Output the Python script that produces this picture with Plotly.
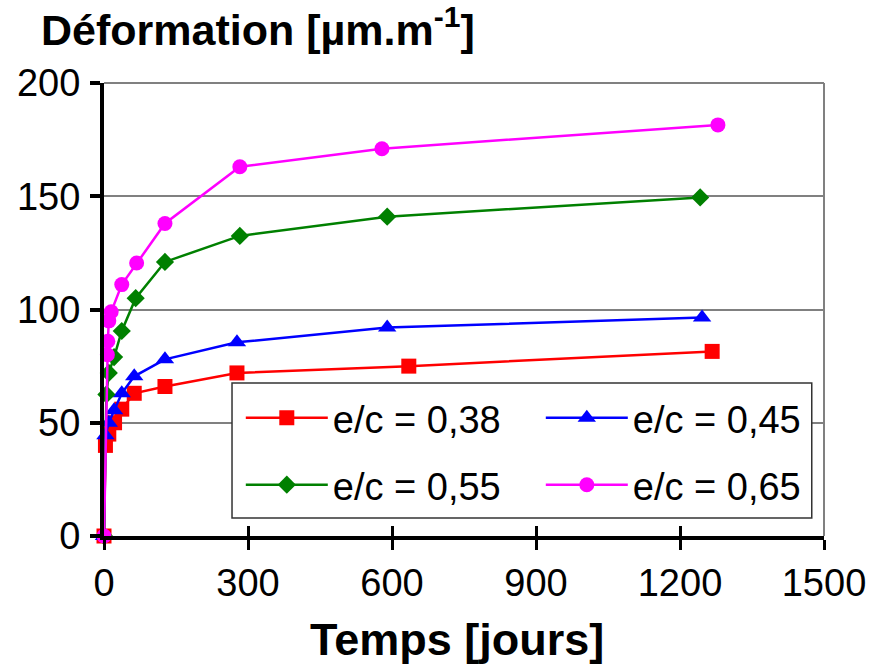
import plotly.graph_objects as go

names = ["e/c = 0,38", "e/c = 0,45", "e/c = 0,55", "e/c = 0,65"]
colors = ["#ff0000", "#0000ff", "#008000", "#ff00ff"]
symbols = ["square", "triangle-up", "diamond", "circle"]
sizes = [15, 16, 14, 15]
legend_rows = ["legend", "legend", "legend2", "legend2"]

t_038 = [0, 3, 10, 22, 37, 63, 127, 277, 635, 1267]
v_038 = [0, 40, 45, 50, 56, 63, 66, 72, 75, 81.5]
t_045 = [0, 3, 10, 21, 37, 63, 127, 277, 590, 1246]
v_045 = [0, 44.5, 50, 55.5, 63, 70.5, 78, 85.5, 92, 96.5]
t_055 = [0, 5, 10, 21, 37, 66, 127, 283, 590, 1242]
v_055 = [0, 62.5, 72, 79, 90.5, 105, 121, 132.5, 141, 149.5]
t_065 = [0, 7, 8, 10, 15, 37, 68, 127, 283, 579, 1279]
v_065 = [0, 80, 86, 95, 99, 111, 120.5, 138, 163, 171, 181.5]

series_t = [t_038, t_045, t_055, t_065]
series_v = [v_038, v_045, v_055, v_065]

x_ticks = [0, 300, 600, 900, 1200, 1500]
y_ticks = [0, 50, 100, 150, 200]

FONT = "Liberation Sans, Arial, sans-serif"

fig = go.Figure()
for n, c, s, sz, lg, t, v in zip(names, colors, symbols, sizes, legend_rows, series_t, series_v):
    fig.add_trace(go.Scatter(
        x=t, y=v, name=n, mode="lines+markers", legend=lg,
        line=dict(color=c, width=2.5),
        marker=dict(symbol=s, size=sz, color=c),
        cliponaxis=False,
    ))

# invisible trace for the inside ticks of x axis
fig.add_trace(go.Scatter(x=[0], y=[0], xaxis="x2", showlegend=False,
                         mode="markers", marker=dict(opacity=0), hoverinfo="skip"))

legend_common = dict(x=0.190, xanchor="left", yanchor="middle",
                     orientation="h", entrywidth=203, entrywidthmode="pixels",
                     bgcolor="rgba(0,0,0,0)", borderwidth=0,
                     font=dict(size=38, family=FONT), itemwidth=82, tracegroupgap=0)

fig.update_layout(
    width=887, height=667,
    margin=dict(l=104, r=63, t=83, b=131),
    paper_bgcolor="white", plot_bgcolor="white",
    font=dict(family=FONT, color="black", size=38),
    xaxis=dict(range=[0, 1500], tickvals=x_ticks, ticktext=[str(v) for v in x_ticks],
               showgrid=False, zeroline=False, showline=True, linecolor="black", linewidth=4,
               ticks="outside", ticklen=10, tickwidth=3, tickcolor="black",
               tickfont=dict(size=38), ticklabelstandoff=0),
    xaxis2=dict(range=[0, 1500], overlaying="x", side="bottom", anchor="y",
                tickvals=x_ticks, showticklabels=False, showgrid=False, zeroline=False,
                showline=False, ticks="inside", ticklen=10, tickwidth=3, tickcolor="black"),
    yaxis=dict(range=[0, 200], tickvals=y_ticks, ticktext=[str(v) for v in y_ticks],
               showgrid=True, gridcolor="#808080", gridwidth=1.5, zeroline=False,
               showline=True, linecolor="black", linewidth=4,
               ticks="outside", ticklen=10, tickwidth=4, tickcolor="black",
               tickfont=dict(size=38), ticklabelstandoff=2),
    legend=dict(y=0.2605, **legend_common),
    legend2=dict(y=0.1126, **legend_common),
    showlegend=True,
)

# gray top/right border of plot area
fig.add_shape(type="line", xref="paper", yref="paper", x0=0, x1=1, y0=1, y1=1,
              line=dict(color="#808080", width=2), layer="below")
fig.add_shape(type="line", xref="paper", yref="paper", x0=1, x1=1, y0=0, y1=1,
              line=dict(color="#808080", width=2), layer="below")
# legend frame
fig.add_shape(type="rect", xref="paper", yref="paper", x0=0.1778, x1=0.983, y0=0.0397, y1=0.3377,
              line=dict(color="#333333", width=1.5), fillcolor="white", layer="above")

fig.add_annotation(text="<b>Déformation [µm.m<sup>-1</sup>]</b>", xref="paper", yref="paper",
                   x=-0.09, y=1.0, yshift=56, xanchor="left", yanchor="middle",
                   showarrow=False, font=dict(size=43, family=FONT))
fig.add_annotation(text="<b>Temps [jours]</b>", xref="paper", yref="paper",
                   x=0.49, y=0, yshift=-103, xanchor="center", yanchor="middle",
                   showarrow=False, font=dict(size=45, family=FONT))

fig.write_html("out.html")
